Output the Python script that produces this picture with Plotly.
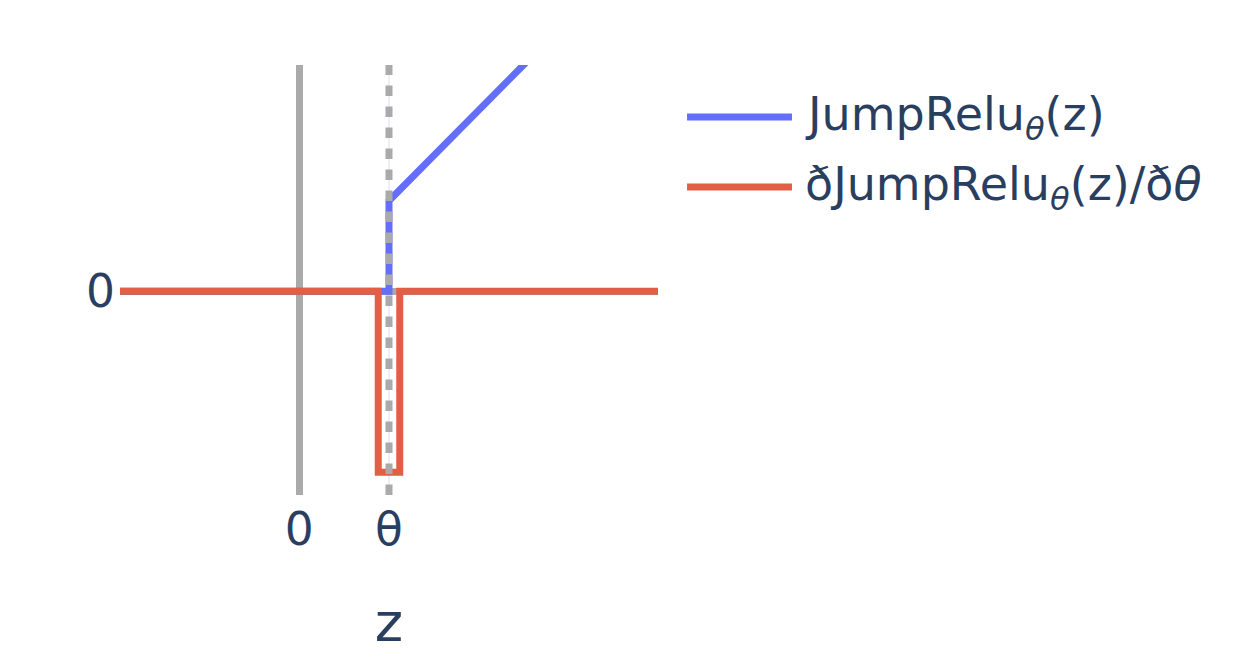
import plotly.graph_objects as go

theta = 1.0
z_relu = [-2, theta, theta, 4]
relu_vals = [0, 0, 1, 4]
z_grad = [-2, 0.88, 0.88, 1.12, 1.12, 4]
grad_vals = [0, 0, -2, -2, 0, 0]
x_tickvals = [0, theta]
x_ticktext = ["0", "θ"]
y_tickvals = [0]
y_ticktext = ["0"]
names = ["JumpRelu<sub><i>θ</i></sub>(z)", "ðJumpRelu<sub><i>θ</i></sub>(z)/ð<i>θ</i>"]
colors = ["#636EFA", "#E05F45"]

FONT = "DejaVu Sans"
fig = go.Figure()
fig.add_trace(go.Scatter(x=z_relu, y=relu_vals, mode="lines", name=names[0],
                         line=dict(color=colors[0], width=7), showlegend=False))
fig.add_trace(go.Scatter(x=z_grad, y=grad_vals, mode="lines", name=names[1],
                         line=dict(color=colors[1], width=7), showlegend=False))
fig.add_vline(x=theta, line=dict(color="#AAAAAA", width=7, dash="10.5px,10.5px"), layer="above")

# legend drawn manually with long line samples
leg_y = [0.879, 0.716]
for i in range(2):
    fig.add_shape(type="line", xref="paper", yref="paper", x0=1.054, x1=1.249,
                  y0=leg_y[i], y1=leg_y[i], line=dict(color=colors[i], width=7))
    fig.add_annotation(xref="paper", yref="paper", x=1.27, y=leg_y[i], text=names[i],
                       showarrow=False, xanchor="left", yanchor="middle",
                       font=dict(family=FONT, size=46, color="#2a3f5f"))

fig.update_layout(
    width=1244, height=662,
    template="plotly_white",
    font=dict(family=FONT, size=45.5, color="#2a3f5f"),
    margin=dict(l=112, r=594, t=57, b=175),
    showlegend=False,
    xaxis=dict(range=[-2, 4], tickvals=x_tickvals, ticktext=x_ticktext,
               showgrid=True, gridcolor="#EBF0F8", gridwidth=2,
               zeroline=True, zerolinecolor="#AAAAAA", zerolinewidth=7,
               ticklabelstandoff=3,
               title=dict(text="z", font=dict(size=54), standoff=48)),
    yaxis=dict(range=[-2.25, 2.5], tickvals=y_tickvals, ticktext=y_ticktext,
               showgrid=True, gridcolor="#EBF0F8", gridwidth=2,
               zeroline=True, zerolinecolor="#AAAAAA", zerolinewidth=7,
               ticklabelstandoff=4),
)
fig.write_html("out.html")
